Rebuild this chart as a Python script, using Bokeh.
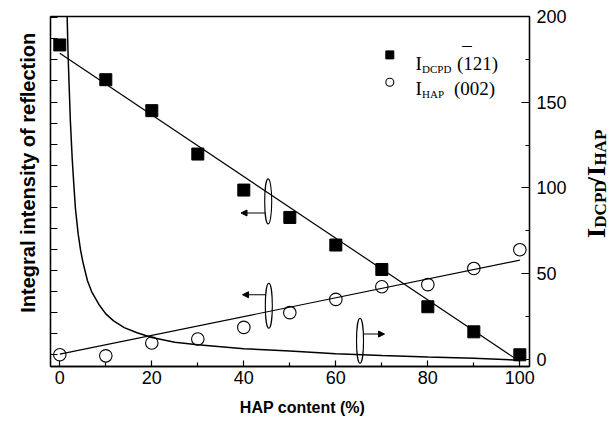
import math
from bokeh.plotting import figure
from bokeh.layouts import row, column
from bokeh.models import Range1d, LinearAxis, FixedTicker, Label, Arrow, NormalHead
from bokeh.embed import file_html
from bokeh.resources import INLINE

# ---------------- data ----------------
hap_content = [0, 10, 20, 30, 40, 50, 60, 70, 80, 90, 100]
i_dcpd = [14.71, 13.06, 11.59, 9.53, 7.82, 6.52, 5.21, 4.05, 2.28, 1.09, 0.0]
i_hap = [0.0, -0.05, 0.56, 0.75, 1.30, 2.00, 2.63, 3.23, 3.33, 4.10, 4.99]

fit_x = [0, 100]
dcpd_fit = [14.31, -0.32]
hap_fit = [0.03, 4.49]

ratio_x = [1.4, 1.6, 1.8, 2.0, 2.3, 2.7, 3.0, 3.4, 4.0, 4.5, 5.0, 6.0, 7.0, 8.5,
           10, 11.7, 14, 16.8, 20, 25, 30, 40, 50, 60, 70, 80, 90, 100]
ratio_y = [230, 200, 178, 162, 139, 117, 104, 88, 73, 64, 57, 46, 39, 32,
           26.5, 22.4, 18.5, 15.5, 12.7, 10.0, 8.5, 6.2, 4.9, 3.3, 2.2, 1.3, 0.6, -0.5]

x_ticks = [0, 20, 40, 60, 80, 100]
x_minor = [10, 30, 50, 70, 90]
ratio_ticks = [0, 50, 100, 150, 200]
ratio_minor = [25, 75, 125, 175]
left_ticks = list(range(0, 17))

x_title = "HAP content (%)"
y_title = "Integral intensity of reflection"

SANS = "Liberation Sans"
SERIF = "Liberation Serif"


def blank(width, height, xr, yr):
    f = figure(width=width, height=height, output_backend="svg", toolbar_location=None,
               x_range=Range1d(*xr), y_range=Range1d(*yr),
               x_axis_type=None, y_axis_type=None,
               min_border_left=0, min_border_right=0, min_border_top=0, min_border_bottom=0)
    f.xgrid.visible = False
    f.ygrid.visible = False
    f.outline_line_color = None
    f.background_fill_color = "white"
    f.border_fill_color = "white"
    return f


def lab(fig, x, y, text, size, font=SERIF, style="normal", angle=0.0, align="left",
        baseline="alphabetic"):
    fig.add_layout(Label(x=x, y=y, text=text, text_font=font, text_font_size=size,
                         text_font_style=style, angle=angle, text_align=align,
                         text_baseline=baseline, text_color="black"))


TOP_H = 392    # height of the upper row
LEFT_W = 44    # width of the left title panel
RIGHT_X = 574  # page x where the right title panel starts

# ---------------- main figure ----------------
p = figure(width=RIGHT_X - LEFT_W, height=TOP_H, output_backend="svg", toolbar_location=None,
           x_range=Range1d(-2.02, 102.1), y_range=Range1d(-0.556, 16.06),
           min_border_left=50 - LEFT_W, min_border_right=45, min_border_top=16,
           min_border_bottom=26)
p.extra_y_ranges = {"ratio": Range1d(-4.2, 200)}
p.xgrid.visible = False
p.ygrid.visible = False
p.outline_line_color = "black"
p.outline_line_width = 1.3
p.background_fill_color = "white"
p.border_fill_color = "white"

xa = p.xaxis[0]
xa.ticker = FixedTicker(ticks=x_ticks, minor_ticks=x_minor)
xa.major_tick_in = 6
xa.major_tick_out = 0
xa.minor_tick_in = 4
xa.minor_tick_out = 0
xa.axis_line_width = 1.3
xa.major_tick_line_width = 1.2
xa.minor_tick_line_width = 1.2
xa.major_label_text_font = SANS
xa.major_label_text_font_size = "18px"
xa.major_label_text_color = "black"
xa.major_label_standoff = 4

ya = p.yaxis[0]
ya.ticker = FixedTicker(ticks=left_ticks, minor_ticks=[])
ya.major_tick_in = 7
ya.major_tick_out = 0
ya.minor_tick_in = 0
ya.minor_tick_out = 0
ya.axis_line_width = 1.3
ya.major_tick_line_width = 1.2
ya.major_label_text_font_size = "1px"
ya.major_label_text_color = None
ya.major_label_standoff = 0

ra = LinearAxis(y_range_name="ratio",
                ticker=FixedTicker(ticks=ratio_ticks, minor_ticks=ratio_minor))
ra.major_tick_in = 8
ra.major_tick_out = 0
ra.minor_tick_in = 4
ra.minor_tick_out = 0
ra.axis_line_width = 1.3
ra.major_tick_line_width = 1.2
ra.minor_tick_line_width = 1.2
ra.major_label_text_font = SANS
ra.major_label_text_font_size = "18px"
ra.major_label_text_color = "black"
ra.major_label_standoff = 7
p.add_layout(ra, "right")

# ---------------- glyphs ----------------
p.line(fit_x, dcpd_fit, line_color="black", line_width=1.2)
p.line(fit_x, hap_fit, line_color="black", line_width=1.2)
p.line(ratio_x, ratio_y, y_range_name="ratio", line_color="black", line_width=1.5)
p.scatter(hap_content, i_dcpd, marker="square", size=12,
          fill_color="black", line_color="black")
p.scatter(hap_content, i_hap, marker="circle", size=12.5,
          fill_color=None, line_color="black", line_width=1.1)


# helpers: page pixel -> data units (annotation placement)
def px(v):
    return (v - 59.3) / 4.6


def py(v):
    return (354.0 - v) / 21.05


# ellipses marking which curve belongs to which axis
ell_x = [px(267.7), px(268.3), px(359.5)]
ell_y = [py(200.7), py(305.0), py(340.0)]
p.ellipse(x=ell_x, y=ell_y, width=7, height=45, width_units="screen",
          height_units="screen", fill_color=None, line_color="black", line_width=1.1)

for (x0, x1, yy) in [(264.5, 240.5, 212.3), (265.0, 242.0, 294.0), (363.0, 384.0, 333.3)]:
    p.add_layout(Arrow(x_start=px(x0), y_start=py(yy), x_end=px(x1), y_end=py(yy),
                       line_color="black", line_width=1.1,
                       end=NormalHead(size=6, fill_color="black", line_color="black")))

# ---------------- legend ----------------
p.scatter([px(389.3)], [py(54.3)], marker="square", size=8, fill_color="black", line_color="black")
p.scatter([px(389.3)], [py(81.7)], marker="circle", size=8, fill_color=None,
          line_color="black", line_width=1.1)

lab(p, px(415), py(63.3), "I", "19px")
lab(p, px(421.5), py(68.3), "DCPD", "11px")
lab(p, px(456.5), py(63.3), "(121)", "19px")
lab(p, px(466.5), py(52.5), "\u00af", "19px", align="center")
lab(p, px(415), py(88.3), "I", "19px")
lab(p, px(421.5), py(93.3), "HAP", "11px")
lab(p, px(453.5), py(88.3), "(002)", "19px")

# ---------------- left title panel ----------------
pl = blank(LEFT_W, TOP_H, (0, LEFT_W), (0, TOP_H))
lab(pl, 27, TOP_H - 175, y_title, "20px", font=SANS, style="bold",
    angle=math.pi / 2, align="center", baseline="middle")

# ---------------- right title panel: I_DCPD / I_HAP ----------------
RW = 616 - RIGHT_X
pr = blank(RW, TOP_H, (0, RW), (0, TOP_H))


def qx(v):
    return v - RIGHT_X


def qy(v):
    return TOP_H - v


A = math.pi / 2
lab(pr, qx(596), qy(248), "I", "26px", style="bold", angle=A)
lab(pr, qx(599.5), qy(236.5), "DCPD", "17px", style="bold", angle=A)
lab(pr, qx(596), qy(188), "/", "26px", style="bold", angle=A)
lab(pr, qx(596), qy(178.5), "I", "26px", style="bold", angle=A)
lab(pr, qx(599.5), qy(167), "HAP", "17px", style="bold", angle=A)

# ---------------- bottom title panel ----------------
BH = 424 - TOP_H
pb = blank(616, BH, (0, 616), (0, BH))
lab(pb, 302, 424 - 406.5, x_title, "16px", font=SANS, style="bold",
    align="center", baseline="middle")

layout = column(row(pl, p, pr), pb)
open("out.html", "w").write(file_html(layout, INLINE))
